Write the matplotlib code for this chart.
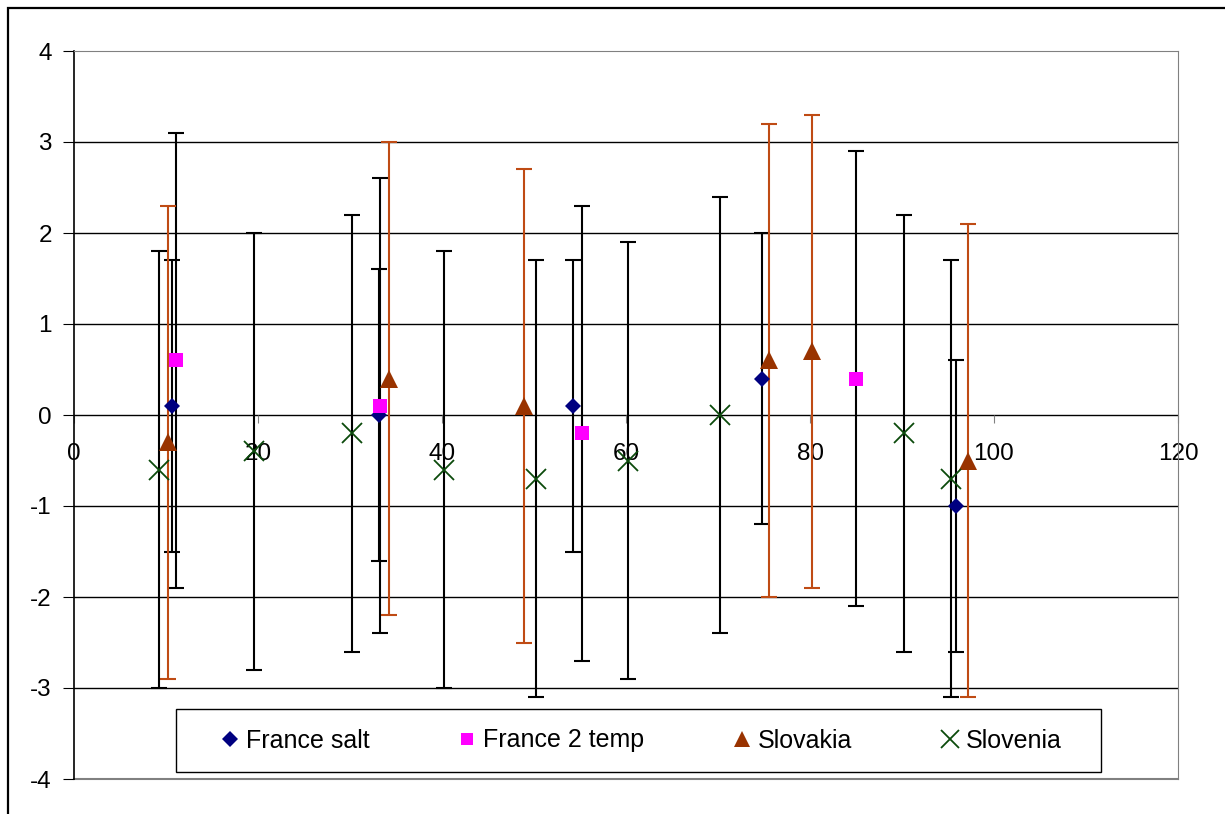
import matplotlib.pyplot as plt
from matplotlib.lines import Line2D
from matplotlib.patches import Rectangle

plt.rcParams['font.family'] = ['Liberation Sans', 'DejaVu Sans']
plt.rcParams['axes.unicode_minus'] = False

# France salt
salt_x = [10.7, 33.1, 54.2, 74.8, 95.9]
salt_y = [0.1, 0.0, 0.1, 0.4, -1.0]
salt_err = [1.6, 1.6, 1.6, 1.6, 1.6]

# France 2 temp
temp_x = [11.1, 33.3, 55.25, 85.0]
temp_y = [0.6, 0.1, -0.2, 0.4]
temp_err = [2.5, 2.5, 2.5, 2.5]

# Slovakia
slovakia_x = [10.25, 34.2, 48.95, 75.5, 80.25, 97.2]
slovakia_y = [-0.3, 0.4, 0.1, 0.6, 0.7, -0.5]
slovakia_err = [2.6, 2.6, 2.6, 2.6, 2.6, 2.6]

# Slovenia
slovenia_x = [9.2, 19.6, 30.2, 40.2, 50.2, 60.2, 70.2, 90.2, 95.3]
slovenia_y = [-0.6, -0.4, -0.2, -0.6, -0.7, -0.5, 0.0, -0.2, -0.7]
slovenia_err = [2.4, 2.4, 2.4, 2.4, 2.4, 2.4, 2.4, 2.4, 2.4]

x_ticks = [0, 20, 40, 60, 80, 100, 120]
y_ticks = [-4, -3, -2, -1, 0, 1, 2, 3, 4]

series = [
    ("France salt", salt_x, salt_y, salt_err, "D", "#000080", 8.5, "black"),
    ("France 2 temp", temp_x, temp_y, temp_err, "s", "#FF00FF", 9.5, "black"),
    ("Slovakia", slovakia_x, slovakia_y, slovakia_err, "^", "#993300", 13, "#BF4B14"),
    ("Slovenia", slovenia_x, slovenia_y, slovenia_err, "x", "#0B4A0B", 15, "black"),
]

W, H = 1225, 814
fig = plt.figure(figsize=(W / 100, H / 100), dpi=100)
# outer chart frame (runs off the right and bottom edges)
fig.patches.append(Rectangle((8 / W, -0.1), 1.2, 1 - 8 / H + 0.1,
                             transform=fig.transFigure, fill=False,
                             edgecolor="black", linewidth=1.6, zorder=0))
ax = fig.add_axes([74 / W, 1 - 779 / H, (1178 - 74) / W, (779 - 51) / H])

# error bars first, markers on top
handles = []
for name, xs, ys, errs, mk, col, ms, ecol in series:
    ax.errorbar(xs, ys, yerr=errs, fmt="none", ecolor=ecol, elinewidth=1.5,
                capsize=5.5, capthick=1.5, zorder=3)
for name, xs, ys, errs, mk, col, ms, ecol in series:
    mew = 1.3 if mk == "x" else 0
    ax.plot(xs, ys, linestyle="none", marker=mk, markersize=ms, color=col,
            markeredgewidth=mew, zorder=4)
    handles.append(Line2D([], [], linestyle="none", marker=mk, color=col,
                          markersize=ms * 0.9, markeredgewidth=mew, label=name))

ax.set_xlim(0, 120)
ax.set_ylim(-4, 4)
ax.set_xticks(x_ticks)
ax.set_yticks(y_ticks)

for y in y_ticks[1:-1]:
    ax.axhline(y, color="black", linewidth=1, zorder=1)

ax.spines["top"].set_color("#808080")
ax.spines["right"].set_color("#808080")
ax.spines["bottom"].set_visible(False)
ax.axhline(-4, color="#808080", linewidth=1.5, zorder=1, clip_on=False)
ax.spines["left"].set_color("black")
ax.spines["left"].set_linewidth(1.2)

# x axis crossing at zero
ax.spines["bottom"].set_position(("data", 0))
ax.tick_params(axis="x", direction="out", length=6, color="#808080", pad=14,
               labelsize=17.5)
ax.tick_params(axis="y", direction="out", length=8, color="black", pad=8,
               labelsize=17.5)

# legend box drawn separately, entries spread inside it
fig.patches.append(Rectangle((176 / W, 1 - 772 / H), (1101 - 176) / W, 63 / H,
                             transform=fig.transFigure, facecolor="white",
                             edgecolor="black", linewidth=1.0, zorder=5))
leg = fig.legend(handles=handles, loc="center", ncol=4, mode="expand",
                 bbox_to_anchor=(220 / W, 1 - 772 / H, (1062 - 220) / W, 63 / H),
                 fontsize=18, frameon=False, handlelength=0.8,
                 handletextpad=0.25, borderpad=0, borderaxespad=0)
leg.set_zorder(6)

plt.savefig("out.png", dpi=100)
